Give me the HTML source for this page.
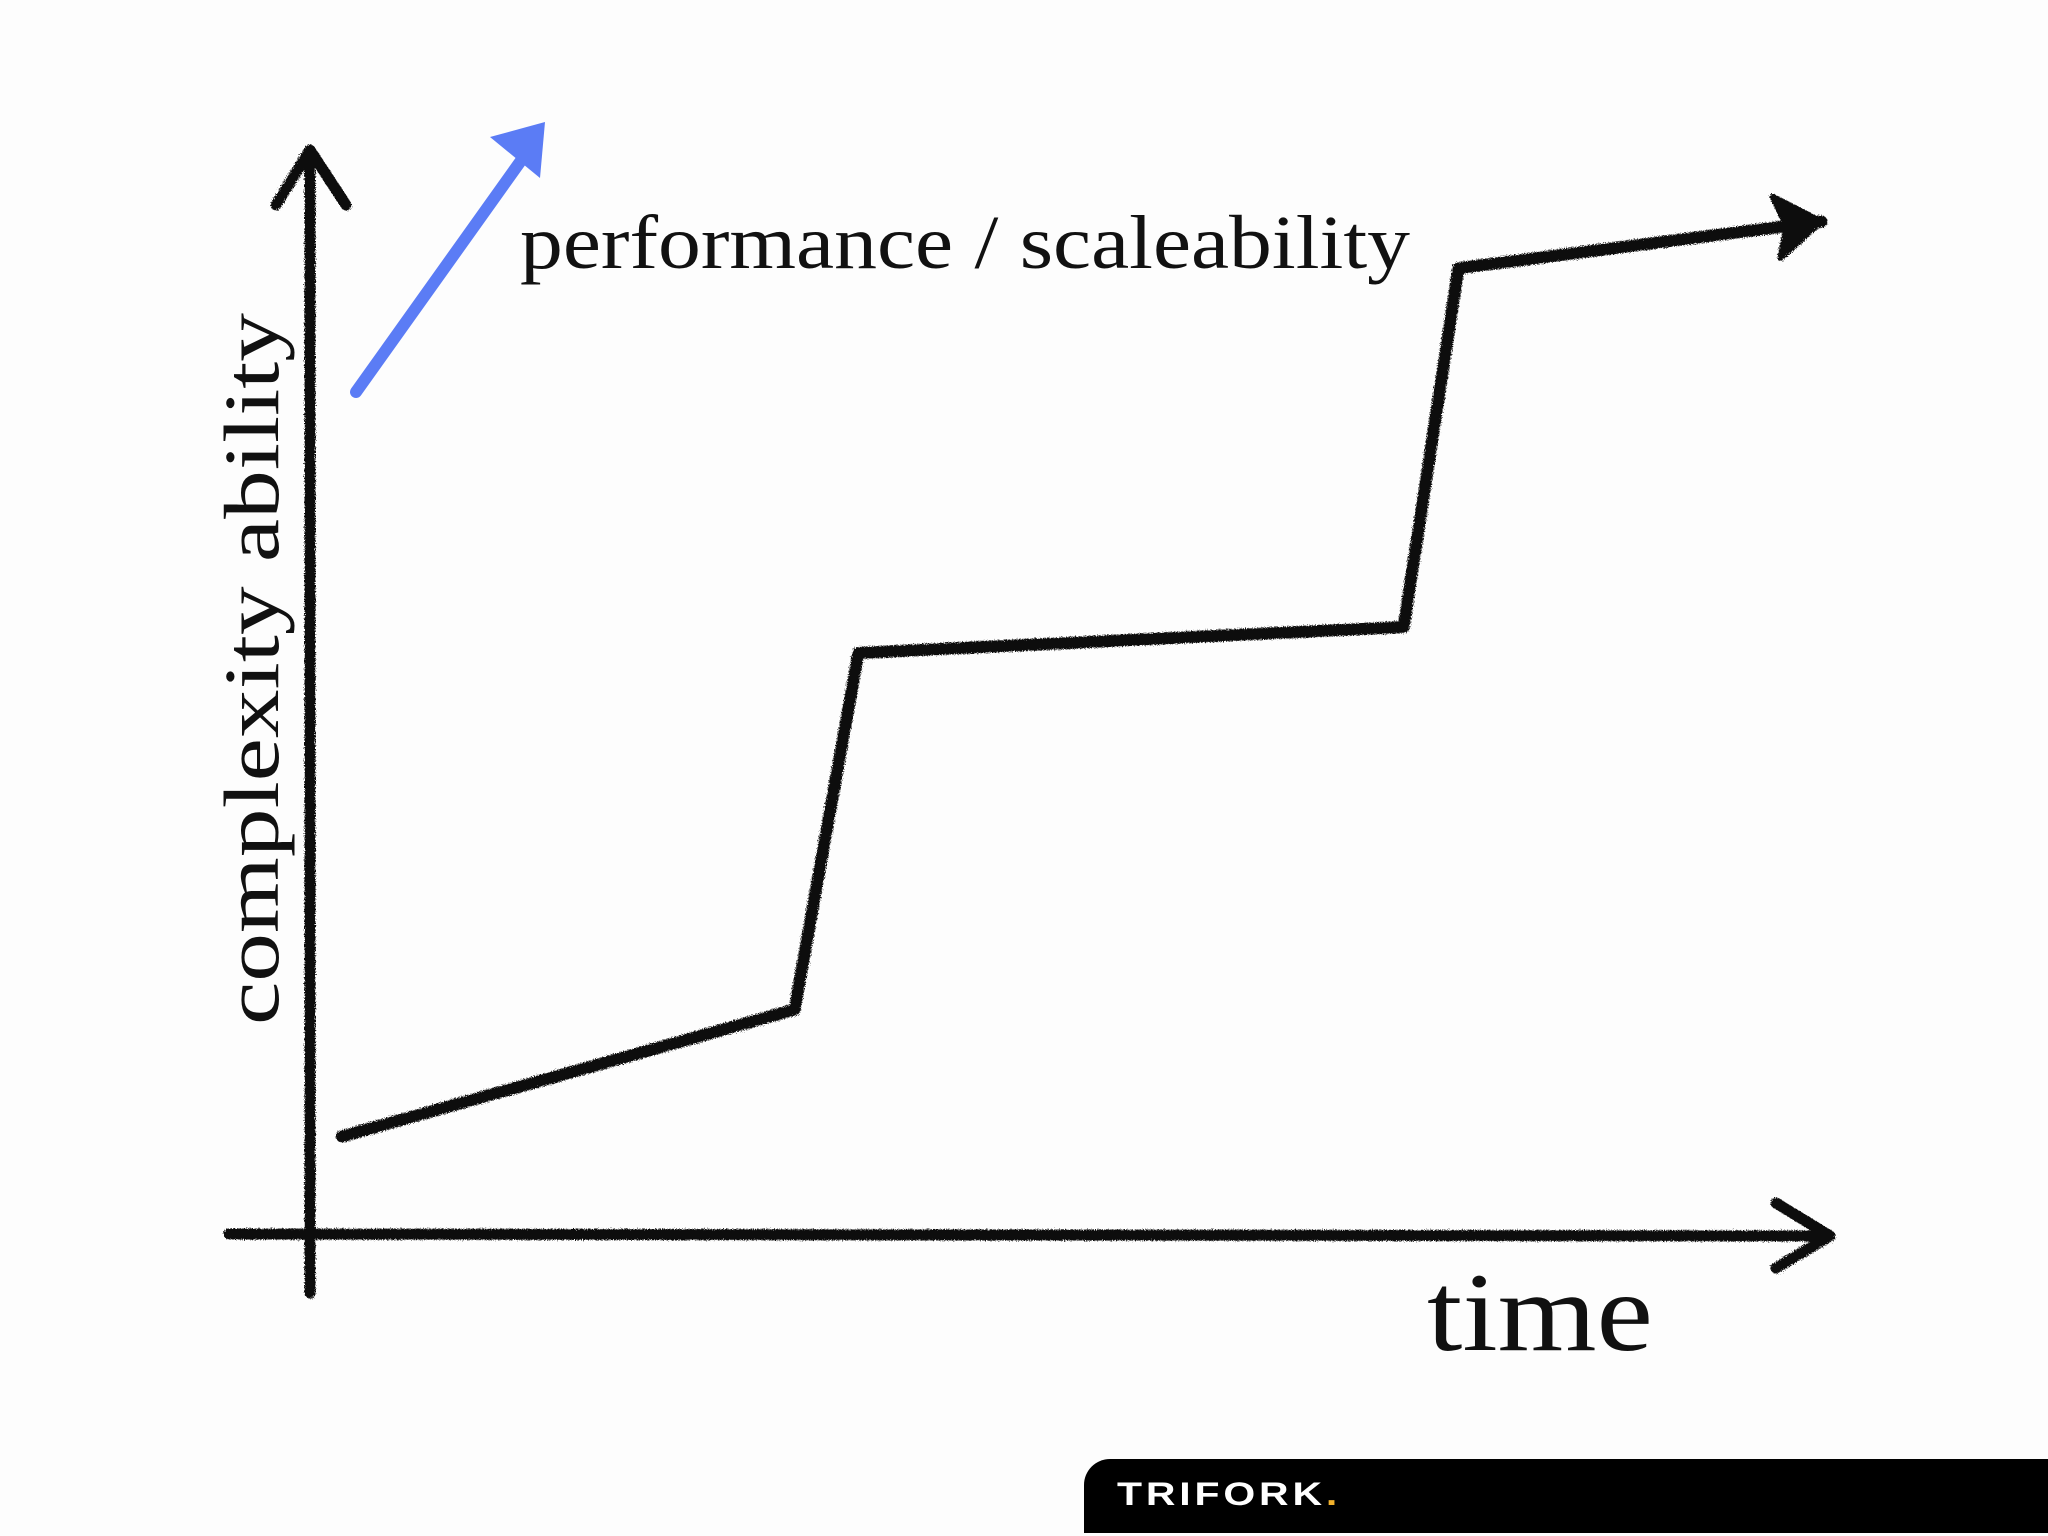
<!DOCTYPE html>
<html><head><meta charset="utf-8"><style>
html,body{margin:0;padding:0;background:#fdfdfd;}
#wrap{position:relative;width:2048px;height:1536px;overflow:hidden;background:#fdfdfd;font-family:"Liberation Serif",serif;}
</style></head><body>
<div id="wrap">
<svg id="chart" width="2048" height="1536">
<defs>
<filter id="chalk" x="-5%" y="-5%" width="110%" height="110%">
<feTurbulence type="fractalNoise" baseFrequency="0.9" numOctaves="2" result="n"/>
<feDisplacementMap in="SourceGraphic" in2="n" scale="5"/>
</filter>
</defs>
<g id="axes" filter="url(#chalk)" stroke="#111" stroke-width="11" fill="none" stroke-linecap="round" stroke-linejoin="round">
<line x1="310" y1="1293" x2="310" y2="155"/>
<polyline points="276,205 310,150 346,205"/>
<line x1="229" y1="1234" x2="1828" y2="1236"/>
<polyline points="1776,1203 1830,1236 1776,1268"/>
</g>
<g id="series"></g>
<g>
<line x1="356" y1="392" x2="525" y2="155" stroke="#5b7cf5" stroke-width="12" stroke-linecap="round"/>
<polygon points="545,122 490,137 540,178" fill="#5b7cf5"/>
</g>
<text x="520" y="268" font-size="76" fill="#111" textLength="890" lengthAdjust="spacingAndGlyphs">performance / scaleability</text>
<text x="1427" y="1350" font-size="112" fill="#111" textLength="226" lengthAdjust="spacingAndGlyphs">time</text>
<text transform="translate(278,1025) rotate(-90)" font-size="78" fill="#111" textLength="712" lengthAdjust="spacingAndGlyphs">complexity ability</text>
</svg>
<div style="position:absolute;left:1084px;top:1459px;width:964px;height:74px;background:#000;border-top-left-radius:26px;">
<span style="position:absolute;left:33px;top:17px;font-family:'Liberation Sans',sans-serif;font-weight:bold;font-size:32px;color:#fff;letter-spacing:3px;display:inline-block;transform:scaleX(1.28);transform-origin:left center;">TRIFORK<span style="color:#f2b12c">.</span></span>
</div>
</div>
<script>
const xVals=[2.1,31.9,36.1,72,75.6,99.5];
const yVals=[9.0,20.7,53.6,56,89.1,93.4];
const sx=v=>310+v/100*1519;
const sy=v=>1234-v/100*1084;
const g=document.getElementById('series');
g.setAttribute('filter','url(#chalk)');
const pl=document.createElementNS('http://www.w3.org/2000/svg','polyline');


pl.setAttribute('points',xVals.map((x,i)=>sx(x)+','+sy(yVals[i])).join(' '));
pl.setAttribute('fill','none');pl.setAttribute('stroke','#111');pl.setAttribute('stroke-width','12');
pl.setAttribute('stroke-linejoin','round');pl.setAttribute('stroke-linecap','round');
g.appendChild(pl);
const n=xVals.length-1;
const ex=sx(xVals[n]),ey=sy(yVals[n]);
const ang=Math.atan2(ey-sy(yVals[n-1]),ex-sx(xVals[n-1]));
const pt=(a,l)=>(ex-l*Math.cos(ang+a))+','+(ey-l*Math.sin(ang+a));
const head=document.createElementNS('http://www.w3.org/2000/svg','polygon');


head.setAttribute('points',pt(0.6,55)+' '+ex+','+ey+' '+pt(-0.6,55)+' '+pt(0,35));
head.setAttribute('fill','#111');head.setAttribute('stroke','#111');head.setAttribute('stroke-width','6');head.setAttribute('stroke-linejoin','round');
g.appendChild(head);
</script>
</body></html>
